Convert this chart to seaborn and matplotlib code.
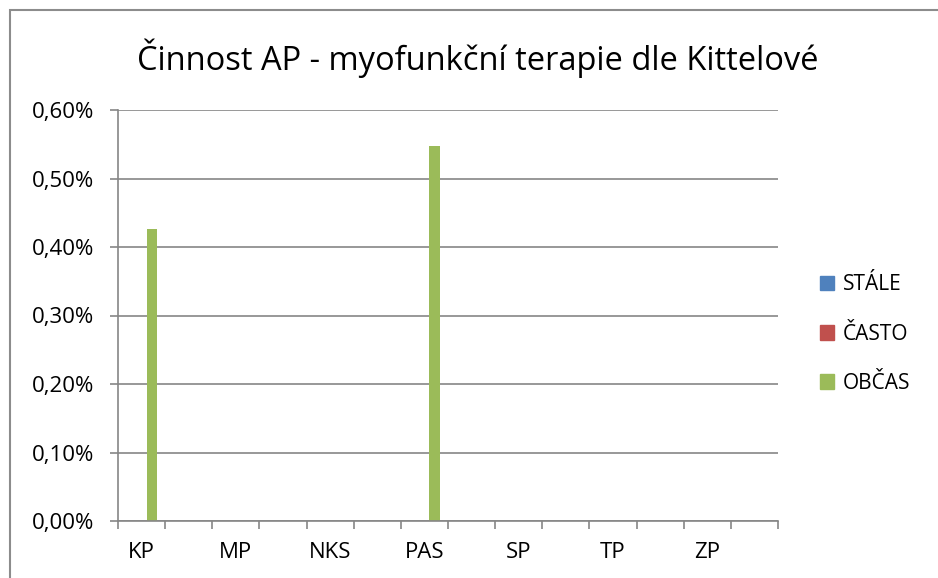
import matplotlib
matplotlib.use("Agg")
import matplotlib.pyplot as plt
import matplotlib.patches as mpatches
import seaborn as sns
import pandas as pd
from matplotlib.ticker import FuncFormatter, MultipleLocator

# Category slots on the x axis; only every other slot carries a visible label
slot_labels = ["KP", "", "MP", "", "NKS", "", "PAS", "", "SP", "", "TP", "", "ZP", ""]
series_names = ["STÁLE", "ČASTO", "OBČAS"]
stale = [0, 0, 0, 0, 0, 0, 0, 0, 0, 0, 0, 0, 0, 0]
casto = [0, 0, 0, 0, 0, 0, 0, 0, 0, 0, 0, 0, 0, 0]
obcas = [0.00426, 0, 0, 0, 0, 0, 0.00547, 0, 0, 0, 0, 0, 0, 0]
colors = ["#4F81BD", "#C0504D", "#9BBB59"]

title = "Činnost AP - myofunkční terapie dle Kittelové"

slots = list(range(len(slot_labels)))
df = pd.DataFrame({
    "slot": slots * 3,
    "series": sum([[s] * len(slots) for s in series_names], []),
    "value": stale + casto + obcas,
})

sns.set_style("white")
plt.rcParams["font.family"] = ["Open Sans", "DejaVu Sans"]
plt.rcParams["text.color"] = "black"
plt.rcParams["xtick.color"] = "black"
plt.rcParams["ytick.color"] = "black"

fig = plt.figure(figsize=(9.38, 5.78), dpi=100)
ax = fig.add_axes([118 / 938, 1 - 521 / 578, (778 - 118) / 938, (521 - 110) / 578])

sns.barplot(data=df, x="slot", y="value", hue="series", hue_order=series_names,
            order=slots, palette=colors, width=0.64, ax=ax, legend=False,
            saturation=1, linewidth=0)

ax.set_xlim(-0.5, len(slots) - 0.5)
ax.set_ylim(0, 0.006)
ax.yaxis.set_major_locator(MultipleLocator(0.001))
ax.yaxis.set_major_formatter(FuncFormatter(lambda v, p: f"{v * 100:.2f}%".replace(".", ",")))

grid_col = "#868686"
ax.grid(axis="y", color=grid_col, linewidth=1.2)
ax.set_axisbelow(True)
for side in ["top", "right"]:
    ax.spines[side].set_visible(False)
for side in ["left", "bottom"]:
    ax.spines[side].set_color(grid_col)
    ax.spines[side].set_linewidth(1.2)

# Tick marks on category boundaries, labels centred on labelled slots
ax.set_xticks([i - 0.5 for i in range(len(slots) + 1)], minor=False)
ax.set_xticklabels([])
ax.set_xticks(slots, minor=True)
ax.set_xticklabels(slot_labels, minor=True)
ax.tick_params(axis="x", which="major", bottom=True, length=6, width=1.2,
               color=grid_col, direction="out")
ax.tick_params(axis="x", which="minor", bottom=True, length=0, pad=15, labelsize=16,
               labelcolor="black")
ax.tick_params(axis="y", left=True, length=6, width=1.2, color=grid_col, direction="out",
               labelsize=16, pad=11, labelcolor="black")
ax.set_xlabel("")
ax.set_ylabel("")

fig.text(478 / 938, 1 - 58 / 578, title, ha="center", va="center", fontsize=23.5, color="black")

handles = [mpatches.Patch(color=c, label=n) for c, n in zip(colors, series_names)]
fig.legend(handles=handles, loc="center left", bbox_to_anchor=(801 / 938, 1 - 334 / 578),
           frameon=False, fontsize=15, handlelength=0.7, handleheight=0.7,
           handletextpad=0.4, labelspacing=1.35)

# Outer chart frame
frame = mpatches.Rectangle((10 / 938, -0.1), 1.2, 1 - 10 / 578 + 0.1, transform=fig.transFigure,
                           fill=False, edgecolor="#8c8c8c", linewidth=1.5)
fig.add_artist(frame)

fig.savefig("out.png", dpi=100)
